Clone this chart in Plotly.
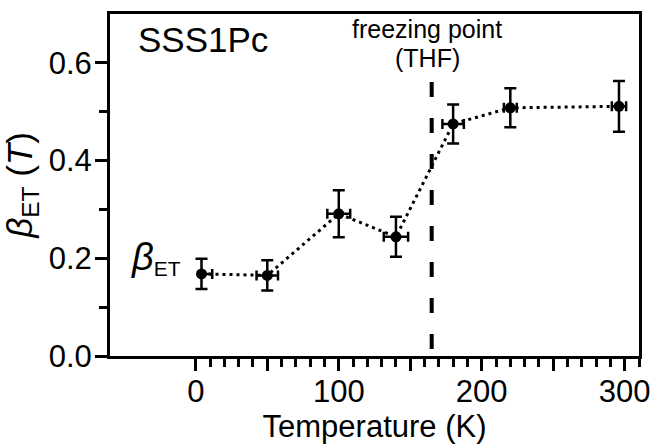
import plotly.graph_objects as go

# ---- data ----
temperature = [4, 50, 100, 140, 180, 220, 296]
beta_et = [0.168, 0.165, 0.291, 0.244, 0.475, 0.508, 0.511]
beta_err = [0.031, 0.031, 0.048, 0.041, 0.040, 0.040, 0.052]
temp_err_plus = [7.5, 7.5, 8.0, 8.5, 7.5, 4.5, 5.0]
temp_err_minus = [0.0, 7.5, 8.0, 8.5, 7.5, 4.5, 5.0]

freeze_T = 165
freeze_line_y = [0.561, 0.012]

x_major = [0, 50, 100, 150, 200, 250, 300]
x_major_text = ["0", "", "100", "", "200", "", "300"]
x_minor = [v for v in range(10, 320, 10) if v % 50 != 0]
y_major = [0.0, 0.2, 0.4, 0.6]
y_major_text = ["0.0", "0.2", "0.4", "0.6"]
y_minor = [0.1, 0.3, 0.5]

FONT = "Liberation Sans, Arial, sans-serif"

fig = go.Figure()

fig.add_trace(go.Scatter(
    x=temperature, y=beta_et,
    mode="lines+markers",
    line=dict(color="black", width=3, dash="3px,4px"),
    marker=dict(color="black", size=11, symbol="circle"),
    error_y=dict(type="data", array=beta_err, visible=True,
                 color="black", thickness=2.5, width=6),
    error_x=dict(type="data", array=temp_err_plus, arrayminus=temp_err_minus,
                 symmetric=False, visible=True,
                 color="black", thickness=2.5, width=5),
    showlegend=False,
))

fig.add_shape(type="line", xref="x", yref="y",
              x0=freeze_T, x1=freeze_T, y0=freeze_line_y[0], y1=freeze_line_y[1],
              line=dict(color="black", width=4, dash="15px,21px"))

fig.add_annotation(x=-42, y=0.647, xref="x", yref="y", text="SSS1Pc",
                   showarrow=False, xanchor="left", yanchor="middle",
                   font=dict(family=FONT, size=35, color="black"))
fig.add_annotation(x=162, y=0.670, xref="x", yref="y", text="freezing point",
                   showarrow=False, xanchor="center", yanchor="middle",
                   font=dict(family=FONT, size=25, color="black"))
fig.add_annotation(x=162, y=0.609, xref="x", yref="y", text="(THF)",
                   showarrow=False, xanchor="center", yanchor="middle",
                   font=dict(family=FONT, size=25, color="black"))
fig.add_annotation(x=-9, y=0.20, xref="x", yref="y",
                   text="<span style='font-size:38px'><i>β</i></span><sub>ET</sub>",
                   showarrow=False, xanchor="right", yanchor="middle",
                   font=dict(family=FONT, size=30, color="black"))

fig.update_xaxes(
    range=[-60, 310], automargin=False,
    tickmode="array", tickvals=x_major, ticktext=x_major_text,
    ticks="outside", ticklen=12, tickwidth=3, tickcolor="black",
    ticklabelstandoff=-6,
    minor=dict(tickvals=x_minor, ticks="outside", ticklen=8, tickwidth=3,
               tickcolor="black", showgrid=False),
    showline=True, linewidth=3, linecolor="black", mirror=True,
    showgrid=False, zeroline=False,
    tickfont=dict(family=FONT, size=31, color="black"),
    title=dict(text="Temperature (K)", font=dict(family=FONT, size=31, color="black"),
               standoff=8),
)
fig.update_yaxes(
    range=[0, 0.7], automargin=False,
    tickmode="array", tickvals=y_major, ticktext=y_major_text,
    ticks="outside", ticklen=12, tickwidth=3, tickcolor="black",
    ticklabelstandoff=-3,
    minor=dict(tickvals=y_minor, ticks="outside", ticklen=8, tickwidth=3,
               tickcolor="black", showgrid=False),
    showline=True, linewidth=3, linecolor="black", mirror=True,
    showgrid=False, zeroline=False,
    tickfont=dict(family=FONT, size=31, color="black"),
    title=dict(text="<i>β</i><sub>ET</sub> (<i>T</i>)",
               font=dict(family=FONT, size=35, color="black"), standoff=8),
)

fig.update_layout(
    width=651, height=446,
    margin=dict(l=110, r=12, t=14, b=90),
    plot_bgcolor="white", paper_bgcolor="white",
    font=dict(family=FONT, color="black"),
)

fig.write_html("out.html", config={"displayModeBar": False},
               post_script="document.body.style.margin='0';document.body.style.padding='0';")
